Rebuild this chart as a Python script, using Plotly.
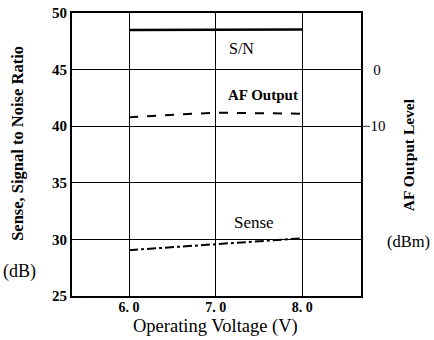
import plotly.graph_objects as go

# Operating voltage (V)
voltage = [6.0, 7.0, 8.0]
# Signal to noise ratio (dB), left axis
sn_db = [48.5, 48.52, 48.55]
# Sensitivity (dB), left axis
sense_db = [29.05, 29.6, 30.1]
# AF output level (dBm), right axis
af_dbm = [-8.4, -7.6, -7.8]

left_ticks = [25, 30, 35, 40, 45, 50]
left_ticktext = [f"<b>{v}</b>" for v in left_ticks]
right_ticks = [0, -10]
right_ticktext = ["\u00a0\u00a0\u00a00", "\u221210"]
x_ticks = [6.0, 7.0, 8.0]
x_ticktext = ["<b>6. 0</b>", "<b>7. 0</b>", "<b>8. 0</b>"]

FONT = "Liberation Serif"

fig = go.Figure()
fig.add_trace(go.Scatter(x=voltage, y=sn_db, mode="lines",
                         line=dict(color="black", width=2.5), showlegend=False))
fig.add_trace(go.Scatter(x=voltage, y=sense_db, mode="lines",
                         line=dict(color="black", width=2, dash="dashdot"),
                         showlegend=False))
fig.add_trace(go.Scatter(x=voltage, y=af_dbm, mode="lines", yaxis="y2",
                         line=dict(color="black", width=2, dash="dash"),
                         showlegend=False))

fig.update_layout(
    width=434, height=340,
    margin=dict(l=72, r=73, t=13, b=44, autoexpand=False),
    paper_bgcolor="white", plot_bgcolor="white",
    font=dict(family=FONT, color="black"),
    xaxis=dict(range=[5.34, 8.68], tickvals=x_ticks, ticktext=x_ticktext,
               showgrid=True, gridcolor="black", gridwidth=1,
               showline=True, linecolor="black", linewidth=2, mirror=True,
               ticks="", ticklen=0, ticklabelstandoff=-3,
               zeroline=False, automargin=False,
               tickfont=dict(size=14, family=FONT)),
    yaxis=dict(range=[25, 50], tickvals=left_ticks, ticktext=left_ticktext,
               showgrid=True, gridcolor="black", gridwidth=1,
               showline=True, linecolor="black", linewidth=2, mirror=True,
               ticks="", zeroline=False, automargin=False,
               tickfont=dict(size=15, family=FONT)),
    yaxis2=dict(range=[-40, 10], overlaying="y", side="right",
                tickvals=right_ticks, ticktext=right_ticktext,
                showgrid=False, zeroline=False, showline=False,
                ticks="", automargin=False,
                tickfont=dict(size=15, family=FONT)),
)

def note(text, x, y, xref="paper", yref="paper", size=14, angle=0, bold=False):
    fig.add_annotation(text=f"<b>{text}</b>" if bold else text,
                       x=x, y=y, xref=xref, yref=yref, showarrow=False,
                       textangle=angle, xanchor="center", yanchor="middle",
                       font=dict(size=size, family=FONT, color="black"))

# Curve labels
note("S/N", 7.3, 46.9, xref="x", yref="y", size=16)
note("AF Output", 7.55, -4.5, xref="x", yref="y2", size=15, bold=True)
note("Sense", 7.44, 31.5, xref="x", yref="y", size=17)

# Axis titles
note("Sense, Signal to Noise Ratio", -0.189, 0.539, size=16.5, angle=-90, bold=True)
note("(dB)", -0.18, 0.088, size=18)
note("AF Output Level", 1.163, 0.498, size=15.5, angle=-90, bold=True)
note("(dBm)", 1.164, 0.194, size=16.5)
note("Operating Voltage (V)", 0.497, -0.108, size=18.5)

fig.write_html("out.html")
